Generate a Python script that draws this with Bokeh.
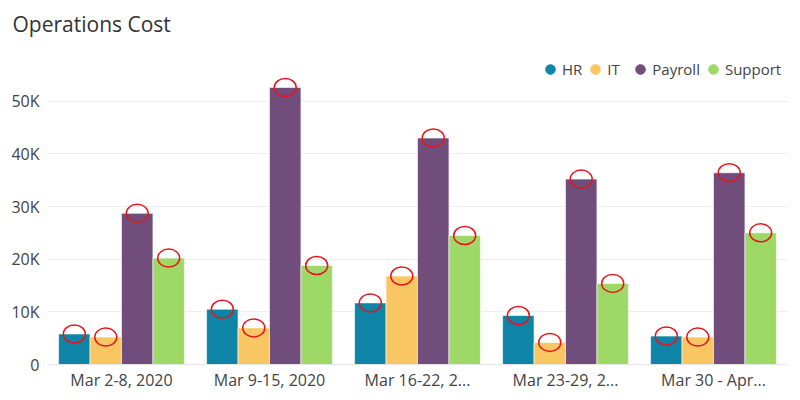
import numpy as np
from bokeh.embed import file_html
from bokeh.models import ColumnDataSource, FactorRange, FixedTicker, Legend, LegendItem, Range1d
from bokeh.plotting import figure
from bokeh.resources import INLINE
from bokeh.transform import dodge

# data
weeks = ["Mar 2-8, 2020", "Mar 9-15, 2020", "Mar 16-22, 2...", "Mar 23-29, 2...", "Mar 30 - Apr..."]
series = ["HR", "IT", "Payroll", "Support"]
hr = [5800, 10500, 11700, 9300, 5400]
it = [5200, 6950, 16800, 4200, 5200]
payroll = [28700, 52600, 43000, 35200, 36400]
support = [20200, 18800, 24500, 15400, 25000]
y_ticks = [0, 10000, 20000, 30000, 40000, 50000]
y_tick_labels = ["0", "10K", "20K", "30K", "40K", "50K"]

colors = {"HR": "#0e85a6", "IT": "#f8c662", "Payroll": "#704d7b", "Support": "#9ed866"}
FONT = "Open Sans"

source = ColumnDataSource(data=dict(weeks=weeks, HR=hr, IT=it, Payroll=payroll, Support=support))

p = figure(
    x_range=FactorRange(*weeks, range_padding=0),
    y_range=Range1d(0, 60000),
    frame_width=740, frame_height=316,
    min_border_left=47, min_border_right=13, min_border_top=48, min_border_bottom=36,
    output_backend="svg", toolbar_location=None, tools="",
    title="Operations Cost",
)

bar_w = 0.2125
offsets = [-1.5 * bar_w, -0.5 * bar_w, 0.5 * bar_w, 1.5 * bar_w]

legend_items = []
for name, off in zip(series, offsets):
    p.vbar(x=dodge("weeks", off, range=p.x_range), top=name, width=bar_w, source=source,
           fill_color=colors[name], line_color="white", line_alpha=0.6, line_width=1)
    # red highlight rings at each bar top
    p.ellipse(x=dodge("weeks", off, range=p.x_range), y=name, width=22, height=18,
              width_units="screen", height_units="screen", source=source,
              fill_alpha=0, line_color="#e8141c", line_width=1.5)
    dummy = p.scatter(x=[weeks[0]], y=[np.nan], size=10, marker="circle",
                      fill_color=colors[name], line_color=colors[name])
    legend_items.append(LegendItem(label=name, renderers=[dummy]))

legend = Legend(items=legend_items, orientation="horizontal", location=(491, 283),
                padding=0, margin=0, spacing=1, label_standoff=0,
                glyph_width=24, glyph_height=24, label_height=20,
                border_line_alpha=0, background_fill_alpha=0,
                label_text_font=FONT, label_text_font_size="15px", label_text_color="#444444")
p.add_layout(legend)

p.title.text_font = FONT
p.title.text_font_size = "21px"
p.title.text_font_style = "normal"
p.title.text_color = "#333333"
p.title.offset = -35
p.title.standoff = 18
p.title.vertical_align = "top"

p.yaxis.ticker = FixedTicker(ticks=y_ticks)
p.yaxis.major_label_overrides = dict(zip(y_ticks, y_tick_labels))
p.yaxis.axis_line_color = None
p.yaxis.major_tick_line_color = None
p.yaxis.major_tick_out = 0
p.yaxis.minor_tick_line_color = None
p.yaxis.major_label_standoff = 8
p.yaxis.major_label_text_font = FONT
p.yaxis.major_label_text_font_size = "16px"
p.yaxis.major_label_text_color = "#444444"

p.xaxis.axis_line_color = "#e6e6e6"
p.xaxis.major_tick_line_color = None
p.xaxis.major_tick_out = 0
p.xaxis.minor_tick_line_color = None
p.xaxis.major_label_standoff = 4
p.xaxis.major_label_text_font = FONT
p.xaxis.major_label_text_font_size = "16px"
p.xaxis.major_label_text_color = "#444444"

p.xgrid.grid_line_color = None
p.ygrid.grid_line_color = "#eeeeee"
p.ygrid.ticker = FixedTicker(ticks=y_ticks)
p.outline_line_color = None

open("out.html", "w").write(file_html(p, INLINE))
